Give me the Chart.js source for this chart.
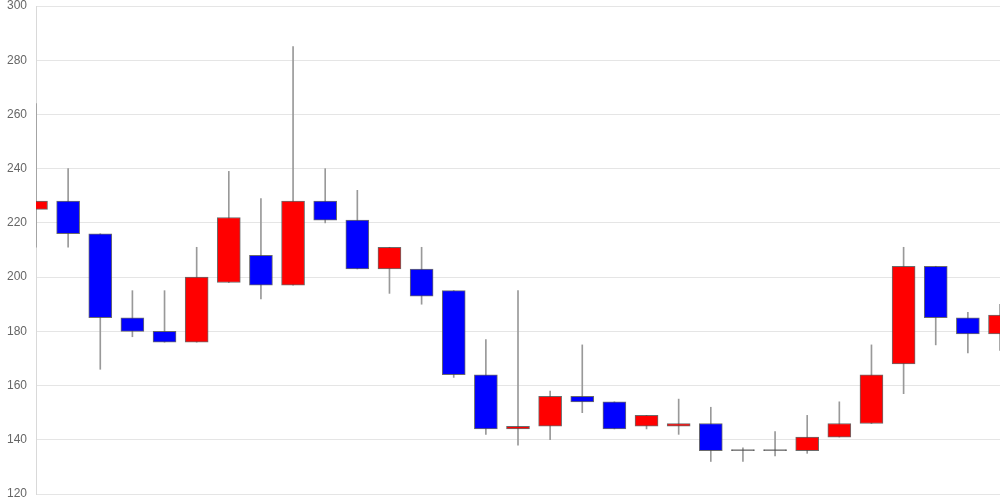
<!DOCTYPE html>
<html>
<head>
<meta charset="utf-8">
<script src="https://cdn.jsdelivr.net/npm/chart.js@4/dist/chart.umd.min.js"></script>
<style>
  html, body { margin: 0; padding: 0; background: #fff; }
  #wrap { width: 1000px; height: 500px; position: relative; }
</style>
</head>
<body>
<div id="wrap"><canvas id="myChart"></canvas></div>
<script>
// one entry per trading day
let days = ["1","2","3","4","5","6","7","8","9","10","11","12","13","14","15","16",
  "17","18","19","20","21","22","23","24","25","26","27","28","29","30","31"];
let openVals  = [225,228,216,185,180,176,198,208,197,228,221,203,203,195,164,144,145,156,154,145,145,146,136,136,136,141,146,168,204,185,179];
let highVals  = [264,240,216,195,195,211,239,229,285,240,232,211,211,195,177,195,158,175,154,149,155,152,137,143,149,154,175,211,204,187,190];
let lowVals   = [211,211,166,178,176,176,198,192,197,220,203,194,190,163,142,138,140,150,144,144,142,132,132,134,135,141,146,157,175,172,173];
let closeVals = [228,216,185,180,176,200,222,197,228,221,203,211,193,164,144,145,156,154,144,149,146,136,136,136,141,146,164,204,185,179,186];
let yTicks = [120,140,160,180,200,220,240,260,280,300];

let bodies = [];
let wicks = [];
let bodyColors = [];
for (let i = 0; i < days.length; i++) {
  bodies.push([openVals[i], closeVals[i]]);
  wicks.push([lowVals[i], highVals[i]]);
  if (closeVals[i] > openVals[i]) {
    bodyColors.push("#ff0000");
  } else if (closeVals[i] < openVals[i]) {
    bodyColors.push("#0000ff");
  } else {
    bodyColors.push("#555555");
  }
}

const ctx = document.getElementById("myChart");
new Chart(ctx, {
  type: "bar",
  data: {
    labels: days,
    datasets: [
      {
        data: bodies,
        backgroundColor: bodyColors,
        borderColor: "rgba(70,70,70,0.8)",
        borderWidth: 1,
        borderSkipped: false,
        barThickness: 23,
        minBarLength: 1,
        grouped: false,
        order: 0
      },
      {
        data: wicks,
        backgroundColor: "#999999",
        borderWidth: 0,
        barThickness: 1,
        grouped: false,
        order: 1
      }
    ]
  },
  options: {
    responsive: true,
    maintainAspectRatio: false,
    animation: false,
    plugins: {
      legend: { display: false },
      tooltip: { enabled: false }
    },
    scales: {
      x: {
        display: false,
        offset: false,
        grid: { display: false }
      },
      y: {
        min: 120,
        max: 300,
        afterFit: function (scale) {
          scale.width = 36;
          scale.paddingTop = 6;
          scale.paddingBottom = 6;
        },
        afterBuildTicks: function (scale) {
          scale.ticks = yTicks.map(function (v) { return { value: v }; });
        },
        grid: { color: "rgba(0,0,0,0.1)", drawTicks: false },
        border: { color: "rgba(0,0,0,0.15)" },
        ticks: {
          padding: 9,
          color: "#666",
          font: { family: "Liberation Sans, Arial, sans-serif", size: 12 }
        }
      }
    }
  }
});
</script>
</body>
</html>
